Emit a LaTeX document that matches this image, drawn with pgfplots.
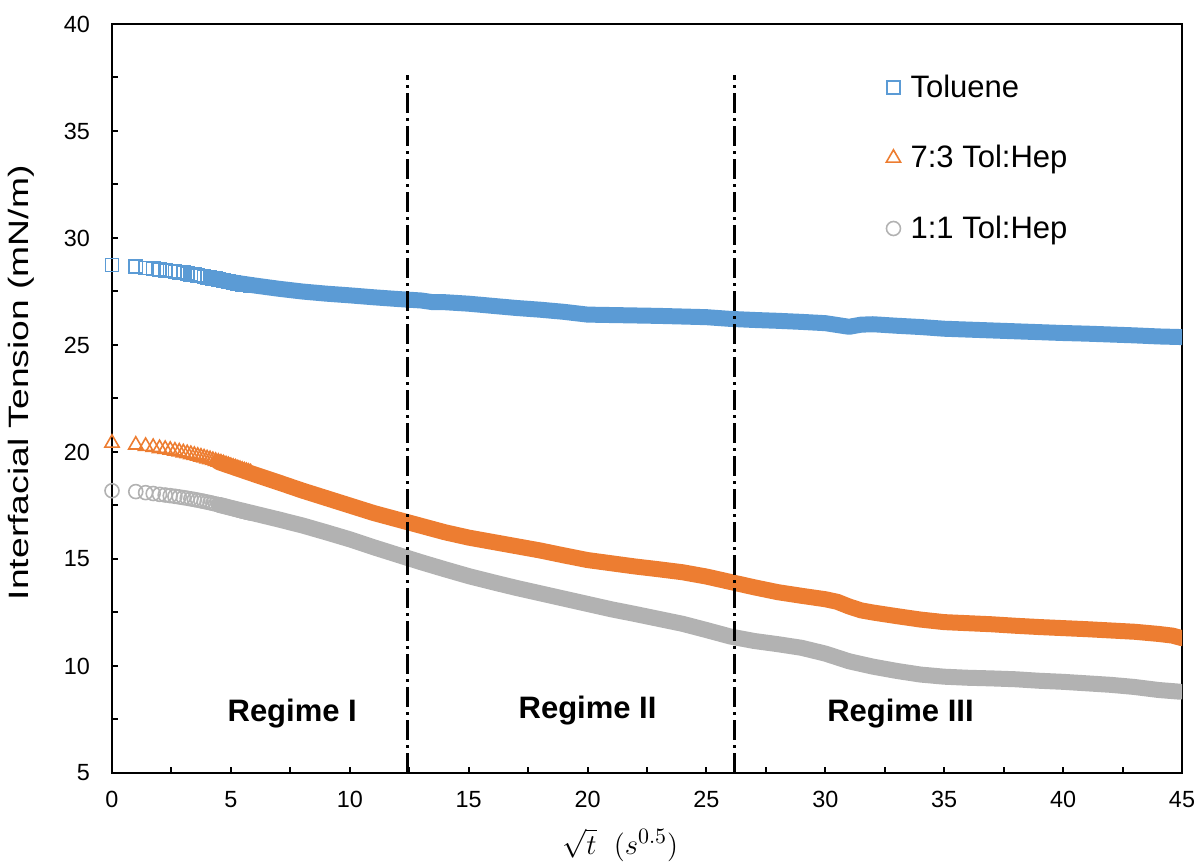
\documentclass[border=0pt]{standalone}
\usepackage{fontspec}
\setmainfont{Liberation Sans}
\usepackage{graphicx}
\usepackage{pgfplots}
\usepackage{pgfplotstable}
\pgfplotsset{compat=1.18}
\definecolor{cblue}{HTML}{5B9BD5}
\definecolor{corange}{HTML}{ED7D31}
\definecolor{cgray}{HTML}{B2B2B2}

% early points at sqrt(t), t = 0,1,2,...
\pgfplotstableread{
x y
0 28.74
1 28.66
1.414 28.60
1.732 28.56
2 28.52
2.236 28.49
2.449 28.46
2.646 28.43
2.828 28.40
3 28.37
3.162 28.34
3.317 28.31
3.464 28.28
3.606 28.25
3.742 28.22
3.873 28.20
4 28.17
4.123 28.14
4.243 28.12
4.359 28.09
4.472 28.06
4.583 28.04
4.690 28.01
4.796 27.99
4.899 27.96
5 27.94
5.099 27.92
5.196 27.90
5.292 27.88
5.385 27.86
5.477 27.84
5.568 27.83
5.657 27.81
5.745 27.80
5.831 27.79
}\tolEarly
\pgfplotstableread{
x y
4.5 28.06
5 27.94
6 27.78
7 27.63
8 27.50
9 27.40
10 27.32
11 27.23
12 27.15
13 27.08
13.5 27.00
14 27.00
15 26.93
16 26.83
17 26.73
18 26.65
19 26.55
20 26.42
21 26.40
22 26.38
23 26.36
24 26.33
25 26.30
26 26.22
27 26.17
28 26.13
29 26.08
30 26.02
31 25.85
31.5 25.95
32 25.97
33 25.90
34 25.84
35 25.76
36 25.72
37 25.68
38 25.64
39 25.60
40 25.56
41 25.53
42 25.49
43 25.45
44 25.40
45 25.37
}\tolBand

\pgfplotstableread{
x y
0 20.42
1 20.33
1.414 20.27
1.732 20.22
2 20.17
2.236 20.13
2.449 20.09
2.646 20.05
2.828 20.01
3 19.97
3.162 19.93
3.317 19.89
3.464 19.85
3.606 19.81
3.742 19.77
3.873 19.73
4 19.69
4.123 19.65
4.243 19.61
4.359 19.57
4.472 19.53
4.583 19.49
4.690 19.45
4.796 19.41
4.899 19.37
5 19.33
5.099 19.29
5.196 19.26
5.292 19.22
5.385 19.19
5.477 19.15
5.568 19.12
5.657 19.09
5.745 19.06
5.831 19.03
}\sevEarly
\pgfplotstableread{
x y
4.5 19.52
5 19.33
6 18.95
7 18.58
8 18.20
9 17.85
10 17.50
11 17.15
12 16.85
13 16.55
14 16.25
15 16.00
16 15.80
17 15.60
18 15.40
19 15.17
20 14.95
21 14.80
22 14.65
23 14.52
24 14.38
25 14.18
26 13.93
27 13.68
28 13.45
29 13.28
30 13.12
30.5 13.00
31 12.78
31.5 12.60
32 12.50
33 12.33
34 12.17
35 12.05
36 12.00
37 11.95
38 11.88
39 11.82
40 11.77
41 11.72
42 11.66
43 11.60
44 11.50
44.6 11.42
45 11.30
}\sevBand

\pgfplotstableread{
x y
0 18.19
1 18.15
1.414 18.10
1.732 18.06
2 18.02
2.236 17.99
2.449 17.96
2.646 17.93
2.828 17.90
3 17.87
3.162 17.84
3.317 17.81
3.464 17.78
3.606 17.75
3.742 17.72
3.873 17.69
4 17.66
4.123 17.63
4.243 17.60
4.359 17.57
4.472 17.54
4.583 17.51
4.690 17.48
4.796 17.45
4.899 17.42
5 17.39
5.099 17.36
5.196 17.33
5.292 17.30
5.385 17.27
5.477 17.24
5.568 17.22
5.657 17.19
5.745 17.17
5.831 17.15
}\oneEarly
\pgfplotstableread{
x y
4.5 17.53
5 17.39
6 17.12
7 16.85
8 16.57
9 16.25
10 15.92
11 15.55
12 15.20
13 14.85
14 14.52
15 14.20
16 13.92
17 13.65
18 13.40
19 13.15
20 12.90
21 12.65
22 12.43
23 12.20
24 11.97
25 11.68
26 11.38
27 11.17
28 11.02
29 10.85
30 10.58
31 10.22
32 9.97
33 9.77
34 9.60
35 9.50
36 9.45
37 9.42
38 9.38
39 9.31
40 9.26
41 9.19
42 9.12
43 9.02
44 8.88
44.9 8.80
}\oneBand

\begin{document}
\begin{tikzpicture}
\begin{axis}[
  scale only axis,
  width=535pt, height=374.5pt,
  xmin=0, xmax=45, ymin=5, ymax=40,
  xtick={0,5,...,45}, minor xtick={2.5,7.5,...,42.5},
  ytick={5,10,...,40}, minor ytick={7.5,12.5,...,37.5},
  tick align=inside, xtick pos=bottom, ytick pos=left,
  major tick length=3pt, minor tick length=3pt,
  tick style={black, line width=1pt},
  axis line style={line width=1.4pt},
  /pgf/number format/assume math mode=true,
  ticklabel style={font=\fontsize{11.7}{14}\selectfont},
  yticklabel style={xshift=-7.5pt},
  xticklabel style={inner sep=0.5pt, yshift=-8.4pt},
  xlabel={$\sqrt{t}\ \ (s^{0.5})$},
  xlabel style={font=\fontsize{15.5}{18}\selectfont, inner sep=0pt, at={(axis description cs:0.475,-0.096)}, anchor=center},
  ylabel={\scalebox{1.33}[1]{Interfacial Tension (mN/m)}},
  ylabel style={font=\fontsize{14}{17}\selectfont, at={(axis description cs:-0.085,0.521)}, anchor=center},
  legend style={at={(axis cs:32.55,37.83)}, anchor=north west, draw=none, fill=none,
    font=\fontsize{15.5}{18}\selectfont, row sep=18.5pt, inner sep=0pt},
  legend cell align=left,
  legend image code/.code={\draw[mark repeat=2,mark phase=2] plot coordinates {(0cm,0cm)(0.15cm,0cm)(0.3cm,0cm)};},
  clip marker paths=false,
]
\addplot[cblue, line width=8pt, line join=round, line cap=round, forget plot] table {\tolBand};
\addplot[corange, line width=8pt, line join=round, line cap=round, forget plot] table {\sevBand};
\addplot[cgray, line width=8pt, line join=round, line cap=round, forget plot] table {\oneBand};

\addplot[only marks, mark=square, mark size=3.3pt, color=cblue, mark options={line width=0.8pt, fill=none}] table {\tolEarly};
\addlegendentry{\hspace*{3pt}Toluene}
\addplot[only marks, mark=triangle, mark size=4.1pt, color=corange, mark options={line width=0.8pt, fill=none}] table {\sevEarly};
\addlegendentry{\hspace*{3pt}7:3 Tol:Hep}
\addplot[only marks, mark=o, mark size=3.5pt, color=cgray, mark options={line width=0.8pt, fill=none}] table {\oneEarly};
\addlegendentry{\hspace*{3pt}1:1 Tol:Hep}

\addplot[black, line width=1.4pt, dash pattern=on 10pt off 2.5pt on 1.5pt off 2.5pt, forget plot] coordinates {(12.42,5) (12.42,37.6)};
\addplot[black, line width=1.4pt, dash pattern=on 10pt off 2.5pt on 1.5pt off 2.5pt, forget plot] coordinates {(26.18,5) (26.18,37.6)};

\node[font=\fontsize{15.5}{18}\selectfont\bfseries] at (axis cs:7.58,7.8) {Regime I};
\node[font=\fontsize{15.5}{18}\selectfont\bfseries] at (axis cs:20.0,7.9) {Regime II};
\node[font=\fontsize{15.5}{18}\selectfont\bfseries] at (axis cs:33.16,7.8) {Regime III};

\coordinate (ll) at (rel axis cs:0,0);
\coordinate (ur) at (rel axis cs:1,1);
\end{axis}
\pgfresetboundingbox
\path[use as bounding box] ([shift={(-56pt,-47pt)}]ll) rectangle ([shift={(9pt,12pt)}]ur);
\end{tikzpicture}
\end{document}
